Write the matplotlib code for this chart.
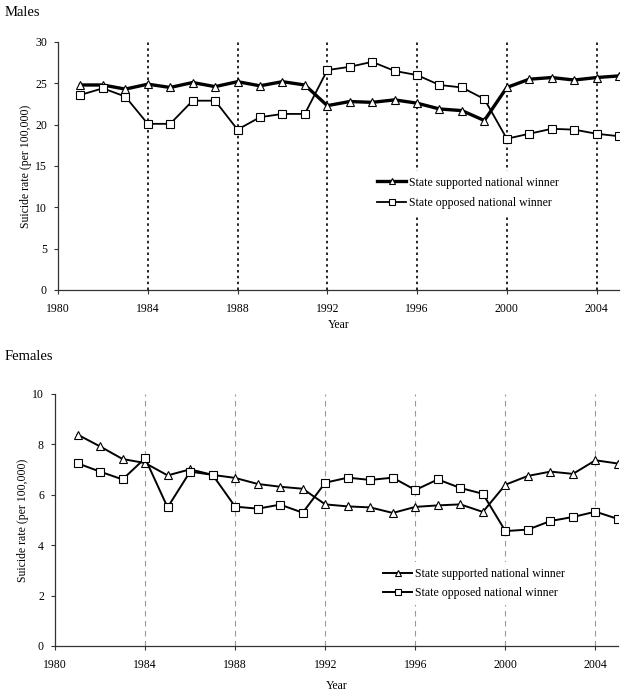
import matplotlib
matplotlib.use("Agg")
import matplotlib.pyplot as plt

plt.rcParams['font.family'] = ['Liberation Serif', 'DejaVu Serif']

years = list(range(1981, 2006))
election_years = [1984, 1988, 1992, 1996, 2000, 2004]

# Males
male_supported = [24.8, 24.8, 24.3, 24.9, 24.5, 25.1, 24.6, 25.2, 24.7, 25.2, 24.8,
                  22.3, 22.8, 22.7, 23.0, 22.6, 21.9, 21.7, 20.5,
                  24.5, 25.5, 25.7, 25.4, 25.7, 25.9]
male_opposed = [23.6, 24.4, 23.4, 20.1, 20.1, 22.9, 22.9, 19.4, 20.9, 21.3, 21.3,
                26.6, 27.0, 27.6, 26.5, 26.0, 24.8, 24.5, 23.1,
                18.3, 18.9, 19.5, 19.4, 18.9, 18.6]

# Females
female_supported = [8.39, 7.92, 7.42, 7.26, 6.77, 7.01, 6.79, 6.67, 6.43, 6.32, 6.24,
                    5.62, 5.54, 5.50, 5.28, 5.52, 5.58, 5.62, 5.32,
                    6.40, 6.75, 6.92, 6.83, 7.37, 7.24]
female_opposed = [7.25, 6.92, 6.61, 7.45, 5.50, 6.92, 6.79, 5.53, 5.45, 5.61, 5.29,
                  6.48, 6.68, 6.59, 6.68, 6.19, 6.61, 6.27, 6.04,
                  4.56, 4.62, 4.96, 5.12, 5.33, 5.04]

labels = ["State supported national winner", "State opposed national winner"]

W, H = 626, 692
fig = plt.figure(figsize=(W / 100, H / 100), dpi=100)


def box(l, t, r, b):
    return [l / W, 1 - b / H, (r - l) / W, (b - t) / H]


def style_axes(ax, ymax, ystep, xpad, ypad):
    ax.set_xlim(1980, 2005)
    ax.set_ylim(0, ymax)
    ax.set_xticks(range(1980, 2005, 4))
    ax.set_yticks(range(0, ymax + 1, ystep))
    for s in ['top', 'right']:
        ax.spines[s].set_visible(False)
    for s in ['left', 'bottom']:
        ax.spines[s].set_linewidth(0.9)
        ax.spines[s].set_color('#333333')
    ax.tick_params(direction='out', length=3, width=0.8, labelsize=8.5,
                   color='#333333')
    ax.tick_params(axis='x', pad=6.5)
    ax.tick_params(axis='y', pad=5)
    ax.set_xlabel("Year", fontsize=8.5, labelpad=xpad)
    ax.set_ylabel("Suicide rate (per 100,000)", fontsize=8.5, labelpad=ypad)


# Top panel
ax1 = fig.add_axes(box(58, 42, 619, 290))
for yr in election_years:
    ax1.axvline(yr, color='black', lw=1.2, ls=(0, (1.5, 2)), zorder=1)
ax1.plot(years, male_supported, color='black', lw=2.4, marker='^', ms=5.5,
         mfc='white', mec='black', mew=0.8, label=labels[0], zorder=3)
ax1.plot(years, male_opposed, color='black', lw=1.3, marker='s', ms=5.5,
         mfc='white', mec='black', mew=0.8, label=labels[1], zorder=3)
style_axes(ax1, 30, 5, 3, 2)
leg1 = ax1.legend(loc='center left', bbox_to_anchor=(0.558, 0.391), frameon=True,
                  edgecolor='none', facecolor='white', framealpha=1, fontsize=8.5,
                  handlelength=2.5, handletextpad=0.25, labelspacing=0.75,
                  borderpad=0.5, borderaxespad=0, markerscale=0.75)
leg1.set_zorder(5)
fig.text(5 / W, 1 - 13 / H, "Males", fontsize=10.5, va='center', ha='left')

# Bottom panel
ax2 = fig.add_axes(box(55, 394, 618, 646))
for yr in election_years:
    ax2.axvline(yr, color='#999999', lw=0.8, ls=(0, (5, 4)), zorder=1)
ax2.plot(years, female_supported, color='black', lw=1.4, marker='^', ms=5.5,
         mfc='white', mec='black', mew=0.8, label=labels[0], zorder=3)
ax2.plot(years, female_opposed, color='black', lw=1.4, marker='s', ms=5.5,
         mfc='white', mec='black', mew=0.8, label=labels[1], zorder=3)
style_axes(ax2, 10, 2, 6.5, 2)
leg2 = ax2.legend(loc='center left', bbox_to_anchor=(0.572, 0.248), frameon=True,
                  edgecolor='none', facecolor='white', framealpha=1, fontsize=8.5,
                  handlelength=2.5, handletextpad=0.25, labelspacing=0.6,
                  borderpad=0.5, borderaxespad=0, markerscale=0.75)
leg2.set_zorder(5)
fig.text(5 / W, 1 - 357 / H, "Females", fontsize=10.5, va='center', ha='left')

fig.savefig("out.png", dpi=100)
